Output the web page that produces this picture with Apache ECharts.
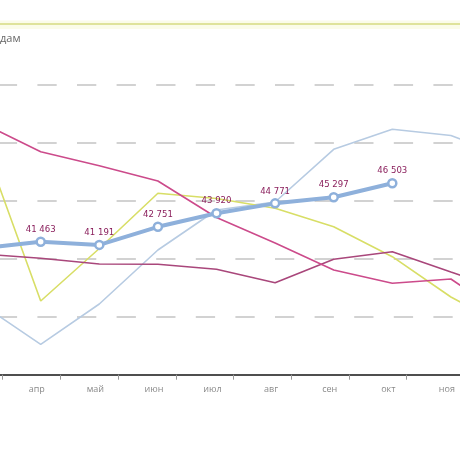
<!DOCTYPE html>
<html><head><meta charset="utf-8">
<script src="https://cdn.jsdelivr.net/npm/echarts@6/dist/echarts.min.js"></script>
<style>
html,body{margin:0;padding:0;background:#fff;width:460px;height:460px;overflow:hidden;position:relative}
#c{position:absolute;left:-60px;top:0;width:620px;height:460px}
</style>
</head><body><div id="c"></div>
<script>
const categories = ['мар','апр','май','июн','июл','авг','сен','окт','ноя','дек'];
const mainSeries = [40900, 41463, 41191, 42751, 43920, 44771, 45297, 46503, null, null];
const magentaSeries = [51700, 49225, 48018, 46700, 43550, 41350, 39030, 37880, 38250, 34830];
const plumSeries = [40400, 40035, 39543, 39518, 39087, 37931, 39949, 40604, 38854, 37130];
const yellowSeries = [50300, 36354, 40880, 45640, 45190, 44345, 42760, 40173, 36700, 34000];
const lightBlueSeries = [36040, 32620, 36095, 40750, 44200, 44890, 49430, 51156, 50620, 48725];
const yMin = 30000, yMax = 60000, yInterval = 5000;
const titleText = 'дам';

const OFF = 60; // chart div is shifted left by this many px
const fmt = v => String(v).replace(/\B(?=(\d{3})+(?!\d))/g, ' ');
const thin = (data, color, z) => ({
  type: 'line', data, xAxisIndex: 0, yAxisIndex: 0, symbol: 'none', z,
  lineStyle: { color, width: 1.6 }, connectNulls: false
});

const chart = echarts.init(document.getElementById('c'), null, { renderer: 'canvas' });
chart.setOption({
  animation: false,
  backgroundColor: '#ffffff',
  grid: [
    { left: OFF - 47.2, width: 586, top: 26.7, bottom: 85.3 },
    { left: OFF - 55, width: 577, top: 26.7, bottom: 85.3 }
  ],
  xAxis: [
    { type: 'category', gridIndex: 0, data: categories, boundaryGap: true,
      axisLine: { show: true, lineStyle: { color: '#4f4f4f', width: 2 } },
      axisTick: { show: false },
      axisLabel: { color: '#8a8a8a', fontSize: 9, margin: 10, padding: [0, 8, 0, 0], fontFamily: 'Open Sans' } },
    { type: 'category', gridIndex: 1, data: categories, boundaryGap: true,
      axisLine: { show: false },
      axisTick: { show: true, length: 5, lineStyle: { color: '#999999', width: 1 } },
      axisLabel: { show: false } }
  ],
  yAxis: [
    { type: 'value', gridIndex: 0, min: yMin, max: yMax, interval: yInterval,
      axisLine: { show: false }, axisTick: { show: false }, axisLabel: { show: false },
      splitLine: { show: true, lineStyle: { color: '#c4c4c4', width: 1.5, type: [19.3, 20.3], dashOffset: 34.2 } } },
    { type: 'value', gridIndex: 1, min: yMin, max: yMax, show: false, splitLine: { show: false } }
  ],
  graphic: [
    { type: 'rect', shape: { x: OFF, y: 20.5, width: 460, height: 8.5 }, style: { fill: '#fbfce9' }, z: 100 },
    { type: 'line', shape: { x1: OFF, y1: 24, x2: OFF + 460, y2: 24 }, style: { stroke: '#dfe39b', lineWidth: 2 }, z: 101 },
    { type: 'text', x: OFF, y: 33, style: { text: titleText, fill: '#666', fontSize: 11, fontFamily: 'Open Sans' }, z: 102 }
  ],
  series: [
    thin(lightBlueSeries, '#b7cbe2', 2),
    thin(yellowSeries, '#d8de66', 3),
    thin(plumSeries, '#a9477b', 4),
    thin(magentaSeries, '#cc4b8b', 5),
    { type: 'line', data: mainSeries, xAxisIndex: 0, yAxisIndex: 0, z: 10,
      symbol: 'circle', symbolSize: 8,
      lineStyle: { color: '#8eb0db', width: 4 },
      itemStyle: { color: '#ffffff', borderColor: '#8eb0db', borderWidth: 2.5 },
      label: { show: true, position: 'top', distance: 2, color: '#8a1f5c', fontSize: 9.5,
        fontFamily: "'DejaVu Sans Condensed', 'Liberation Sans Narrow', 'Liberation Sans', sans-serif",
        formatter: p => fmt(p.value) } }
  ]
});
</script>
</body></html>
